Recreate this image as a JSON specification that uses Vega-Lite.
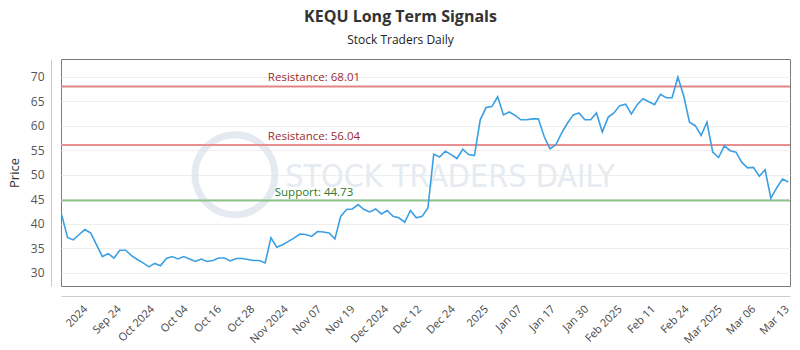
{
  "$schema": "https://vega.github.io/schema/vega-lite/v6.json",
  "width": 729,
  "height": 227,
  "autosize": "none",
  "padding": {"left": 61, "top": 59, "right": 10, "bottom": 64},
  "background": "white",
  "title": {
    "text": "KEQU Long Term Signals",
    "subtitle": "Stock Traders Daily",
    "anchor": "middle",
    "dx": -25,
    "offset": 13,
    "font": "Open Sans",
    "fontSize": 16,
    "fontWeight": "bold",
    "color": "#333333",
    "subtitleFont": "Open Sans",
    "subtitleFontSize": 12,
    "subtitleColor": "#222222",
    "subtitlePadding": 10
  },
  "config": {
    "view": {"stroke": "#7a7a7a", "strokeWidth": 1},
    "axis": {"labelFont": "Open Sans", "titleFont": "Open Sans", "labelOverlap": false, "labelFlush": false, "labelBound": false}
  },
  "datasets": {
    "prices": [
      {"i":0,"price":41.8},{"i":1,"price":37.2},{"i":2,"price":36.7},{"i":3,"price":37.8},{"i":4,"price":38.8},
      {"i":5,"price":38.1},{"i":6,"price":35.7},{"i":7,"price":33.3},{"i":8,"price":33.9},{"i":9,"price":33.0},
      {"i":10,"price":34.6},{"i":11,"price":34.6},{"i":12,"price":33.5},{"i":13,"price":32.7},{"i":14,"price":32.0},
      {"i":15,"price":31.2},{"i":16,"price":31.9},{"i":17,"price":31.4},{"i":18,"price":32.9},{"i":19,"price":33.3},
      {"i":20,"price":32.8},{"i":21,"price":33.3},{"i":22,"price":32.8},{"i":23,"price":32.3},{"i":24,"price":32.8},
      {"i":25,"price":32.3},{"i":26,"price":32.5},{"i":27,"price":33.0},{"i":28,"price":33.0},{"i":29,"price":32.4},
      {"i":30,"price":32.9},{"i":31,"price":32.9},{"i":32,"price":32.7},{"i":33,"price":32.5},{"i":34,"price":32.5},
      {"i":35,"price":32.0},{"i":36,"price":37.1},{"i":37,"price":35.2},{"i":38,"price":35.7},{"i":39,"price":36.4},
      {"i":40,"price":37.1},{"i":41,"price":37.9},{"i":42,"price":37.8},{"i":43,"price":37.4},{"i":44,"price":38.4},
      {"i":45,"price":38.3},{"i":46,"price":38.1},{"i":47,"price":36.9},{"i":48,"price":41.5},{"i":49,"price":42.9},
      {"i":50,"price":43.0},{"i":51,"price":43.9},{"i":52,"price":42.9},{"i":53,"price":42.4},{"i":54,"price":43.0},
      {"i":55,"price":42.0},{"i":56,"price":42.7},{"i":57,"price":41.5},{"i":58,"price":41.2},{"i":59,"price":40.3},
      {"i":60,"price":42.7},{"i":61,"price":41.2},{"i":62,"price":41.5},{"i":63,"price":43.2},{"i":64,"price":54.2},
      {"i":65,"price":53.6},{"i":66,"price":54.8},{"i":67,"price":54.1},{"i":68,"price":53.3},{"i":69,"price":55.2},
      {"i":70,"price":54.1},{"i":71,"price":53.9},{"i":72,"price":61.2},{"i":73,"price":63.7},{"i":74,"price":63.9},
      {"i":75,"price":65.9},{"i":76,"price":62.2},{"i":77,"price":62.8},{"i":78,"price":62.1},{"i":79,"price":61.2},
      {"i":80,"price":61.2},{"i":81,"price":61.4},{"i":82,"price":61.4},{"i":83,"price":57.8},{"i":84,"price":55.3},
      {"i":85,"price":56.1},{"i":86,"price":58.5},{"i":87,"price":60.5},{"i":88,"price":62.2},{"i":89,"price":62.6},
      {"i":90,"price":61.2},{"i":91,"price":61.2},{"i":92,"price":62.6},{"i":93,"price":58.7},{"i":94,"price":61.7},
      {"i":95,"price":62.6},{"i":96,"price":64.1},{"i":97,"price":64.4},{"i":98,"price":62.4},{"i":99,"price":64.3},
      {"i":100,"price":65.5},{"i":101,"price":64.9},{"i":102,"price":64.3},{"i":103,"price":66.4},{"i":104,"price":65.7},
      {"i":105,"price":65.7},{"i":106,"price":69.9},{"i":107,"price":66.1},{"i":108,"price":60.7},{"i":109,"price":60.0},
      {"i":110,"price":58.0},{"i":111,"price":60.7},{"i":112,"price":54.6},{"i":113,"price":53.5},{"i":114,"price":55.9},
      {"i":115,"price":54.9},{"i":116,"price":54.6},{"i":117,"price":52.5},{"i":118,"price":51.4},{"i":119,"price":51.5},
      {"i":120,"price":49.7},{"i":121,"price":51.0},{"i":122,"price":45.2},{"i":123,"price":47.3},{"i":124,"price":49.1},
      {"i":125,"price":48.5}
    ],
    "levels": [
      {"label": "Resistance: 68.01", "level": 68.01, "kind": "resistance"},
      {"label": "Resistance: 56.04", "level": 56.04, "kind": "resistance2"},
      {"label": "Support: 44.73", "level": 44.73, "kind": "support"}
    ]
  },
  "layer": [
    {
      "data": {"values": [{"name": "watermark"}]},
      "mark": {"type": "point", "filled": false, "shape": "circle", "size": 6400, "stroke": "#dfe6ee", "strokeWidth": 7, "opacity": 0.8},
      "encoding": {
        "x": {"datum": 29.8, "type": "quantitative"},
        "y": {"datum": 50.0, "type": "quantitative"}
      }
    },
    {
      "data": {"values": [{"name": "watermark"}]},
      "mark": {"type": "text", "font": "DejaVu Sans Condensed, Liberation Sans Narrow, sans-serif", "fontWeight": "normal", "fontSize": 32, "color": "#e6ebf1", "align": "center", "baseline": "middle"},
      "encoding": {
        "x": {"datum": 66.8, "type": "quantitative"},
        "y": {"datum": 49.6, "type": "quantitative"},
        "text": {"value": "STOCK TRADERS DAILY"}
      }
    },
    {
      "data": {"name": "levels"},
      "mark": {"type": "rule", "strokeWidth": 2},
      "encoding": {
        "y": {"field": "level", "type": "quantitative"},
        "color": {
          "field": "kind", "type": "nominal", "legend": null,
          "scale": {"domain": ["resistance", "resistance2", "support"], "range": ["#e28585", "#e89090", "#8cc28c"]}
        }
      }
    },
    {
      "data": {"name": "levels"},
      "mark": {"type": "text", "font": "Open Sans", "fontSize": 11.5, "align": "center", "baseline": "bottom", "dy": -3},
      "encoding": {
        "x": {"datum": 43.4, "type": "quantitative"},
        "y": {"field": "level", "type": "quantitative"},
        "text": {"field": "label"},
        "fill": {
          "field": "kind", "type": "nominal", "legend": null,
          "scale": {"domain": ["resistance", "resistance2", "support"], "range": ["#9b2b2b", "#9b2b2b", "#2f7a2f"]}
        }
      }
    },
    {
      "data": {"name": "prices"},
      "mark": {"type": "line", "color": "#3b9fe3", "strokeWidth": 1.6},
      "encoding": {
        "x": {
          "field": "i", "type": "quantitative",
          "scale": {"domain": [-0.12, 125.29], "nice": false, "zero": false},
          "axis": {
            "title": null,
            "values": [3.39, 9.13, 14.88, 20.62, 26.37, 32.11, 37.86, 43.6, 49.35, 55.1, 60.84, 66.59, 72.33, 78.08, 83.82, 89.57, 95.31, 101.06, 106.8, 112.55, 118.29, 124.04],
            "tickCount": 40,
            "labelExpr": "['2024','Sep 24','Oct 2024','Oct 04','Oct 16','Oct 28','Nov 2024','Nov 07','Nov 19','Dec 2024','Dec 12','Dec 24','2025','Jan 07','Jan 17','Jan 30','Feb 2025','Feb 11','Feb 24','Mar 2025','Mar 06','Mar 13'][round((datum.value - 3.39) / 5.745)]",
            "labelAngle": -45,
            "labelFontSize": 11,
            "labelColor": "#444444",
            "labelOverlap": false,
            "labelFlush": false,
            "labelBound": false,
            "labelPadding": 7,
            "ticks": false,
            "grid": false,
            "domainColor": "#cccccc",
            "offset": 10
          }
        },
        "y": {
          "field": "price", "type": "quantitative",
          "scale": {"domain": [27.29, 73.61], "nice": false, "zero": false},
          "axis": {
            "title": "Price",
            "titleFontSize": 13,
            "titleFontWeight": "normal",
            "titleColor": "#333333",
            "titlePadding": 9,
            "values": [30, 35, 40, 45, 50, 55, 60, 65, 70],
            "tickCount": 20,
            "labelOverlap": false,
            "labelFontSize": 12,
            "labelColor": "#555555",
            "labelPadding": 7,
            "ticks": false,
            "grid": true,
            "gridColor": "#eeeeee",
            "domainColor": "#cccccc",
            "offset": 10
          }
        }
      }
    }
  ]
}
